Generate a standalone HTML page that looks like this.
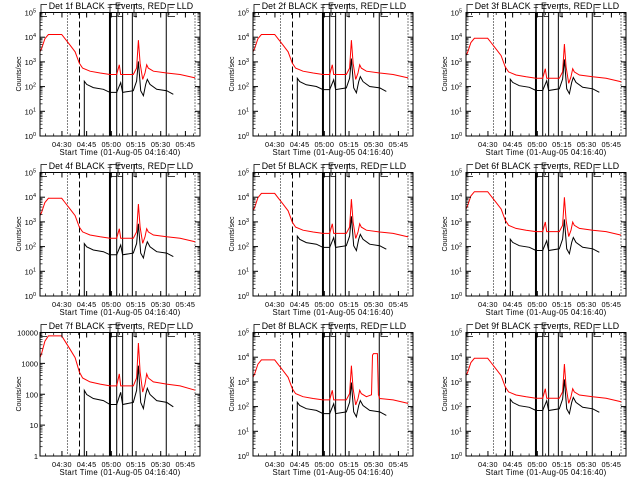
<!DOCTYPE html>
<html><head><meta charset="utf-8"><style>
html,body{margin:0;padding:0;background:#fff;}
svg{display:block;font-family:"Liberation Sans",sans-serif;}
</style></head><body>
<svg id="c" width="640" height="480" viewBox="0 0 640 480" xmlns="http://www.w3.org/2000/svg"></svg>
<script>
// time in minutes after 04:16:40
const redTimes=[0,1,3,5.1,8.1,13.2,15.2,18.2,21.3,23.9,25.9,30.4,36.5,42.5,46.6,48.2,49.0,56.7,58.7,59.8,60.8,62.4,63.8,64.8,65.8,68.9,77.0,85.1,94.2];
const redCounts=[2570,3470,8700,12900,12900,12900,8700,4790,2570,890,560,420,355,310,310,760,310,310,560,7600,890,195,355,760,560,420,355,310,225];
const blackTimes=[26.9,26.9,28.4,32.4,38.5,42.5,46.6,49.0,50.2,56.7,58.7,59.8,61.2,62.8,64.2,65.2,66.8,70.9,77.0,81.0];
const blackCounts=[0.8,166,123,91,78,58,58,145,58,68,166,1050,68,43,123,195,123,78,68,49];
const det8BumpTimes=[72.0,72.6,73.2,75.6,76.2];
const det8BumpCounts=[300,12000,14000,14000,300];
const detectors=["1f","2f","3f","4f","5f","6f","7f","8f","9f"];
const redScale=[1.0,1.0,0.7,0.7,1.1,1.3,0.6,0.6,0.7];
const blackScale=[1.0,1.3,1.2,0.8,1.6,1.2,0.8,0.9,1.2];
const markerTimes=[16.7,24.0,42.5,46.6,50.2,56.1,76.7];
const markerStyles=["dot","dash","thick","solid","solid","solid","solid"];
const xTickLabels=["04:30","04:45","05:00","05:15","05:30","05:45"];
const xTickTimes=[13.33,28.33,43.33,58.33,73.33,88.33];
const NS="http://www.w3.org/2000/svg";
const svg=document.getElementById('c');
function mk(tag,attrs,parent){const e=document.createElementNS(NS,tag);for(const k in attrs)e.setAttribute(k,attrs[k]);parent.appendChild(e);return e;}
const X0=40,X1=200,Y0=12.5,Y1=136,TMAX=97.2;
detectors.forEach((d,i)=>{
  const ox=(i%3)*213,oy=Math.floor(i/3)*160;
  const g=mk('g',{transform:`translate(${ox},${oy})`},svg);
  
  
  const lmin=0,lmax=(i===6)?4:5;
  const xs=t=>X0+t/TMAX*(X1-X0);
  const ys=v=>{let l=Math.log10(Math.max(v,1e-3));l=Math.min(Math.max(l,lmin-0.2),lmax);return Y1-(l-lmin)/(lmax-lmin)*(Y1-Y0);};
  const clip=mk('clipPath',{id:'cp'+i},g);mk('rect',{x:X0,y:Y0,width:X1-X0,height:Y1-Y0},clip);
  const ti=mk('text',{x:121,y:9,'font-size':8.8,'text-anchor':'middle','letter-spacing':0.1},g);
  ti.textContent=`Det ${d} BLACK = Events, RED = LLD`;
  
  
  markerTimes.forEach((t,k)=>{
    const s=markerStyles[k];const x=xs(t);
    const a={x1:x,x2:x,y1:Y0,y2:Y1,stroke:'#000','stroke-width':s==='thick'?2:1};
    if(s==='dot')a['stroke-dasharray']='1,2';
    if(s==='dash')a['stroke-dasharray']='6,3';
    const l=mk('line',a,g);
    
    
  });
  const l2=mk('line',{x1:195,x2:195,y1:Y0,y2:Y1,stroke:'#000','stroke-dasharray':'1,2'},g);
  
  
  [[41,47],[110,117],[118,123],[134,137],[168,175]].forEach(p=>{
    mk('polyline',{points:`${p[1]},${Y0-8} ${p[0]},${Y0-8} ${p[0]},${Y0+4} ${p[1]},${Y0+4}`,fill:'none',stroke:'#000','stroke-width':0.8},g);
  });
  let rt=redTimes.slice(),rc=redCounts.map(v=>v*redScale[i]);
  if(i===7){
    const pts=rt.map((t,k)=>[t,rc[k]]).filter(p=>p[0]<72||p[0]>76.2);
    det8BumpTimes.forEach((t,k)=>pts.push([t,det8BumpCounts[k]]));
    pts.sort((a,b)=>a[0]-b[0]);rt=pts.map(p=>p[0]);rc=pts.map(p=>p[1]);
  }
  const rp=rt.map((t,k)=>xs(t).toFixed(1)+','+ys(rc[k]).toFixed(1)).join(' ');
  const r=mk('polyline',{points:rp,fill:'none',stroke:'#f00','stroke-width':1,'clip-path':`url(#cp${i})`},g);
  
  
  const bp=blackTimes.map((t,k)=>xs(t).toFixed(1)+','+ys(blackCounts[k]*(k===0?1:blackScale[i])).toFixed(1)).join(' ');
  const b=mk('polyline',{points:bp,fill:'none',stroke:'#000','stroke-width':1,'clip-path':`url(#cp${i})`},g);
  
  
  const fr=mk('rect',{x:X0,y:Y0,width:X1-X0,height:Y1-Y0,fill:'none',stroke:'#000','stroke-width':1},g);
  
  
  for(let dd=lmin;dd<=lmax;dd++){
    const y=Y1-(dd-lmin)/(lmax-lmin)*(Y1-Y0);
    mk('line',{x1:X0,x2:X0+5,y1:y,y2:y,stroke:'#000'},g);
    mk('line',{x1:X1,x2:X1-5,y1:y,y2:y,stroke:'#000'},g);
    if(dd<lmax)for(let m=2;m<10;m++){const yy=y-Math.log10(m)/(lmax-lmin)*(Y1-Y0);
      mk('line',{x1:X0,x2:X0+2.5,y1:yy,y2:yy,stroke:'#000','stroke-width':0.7},g);
      mk('line',{x1:X1,x2:X1-2.5,y1:yy,y2:yy,stroke:'#000','stroke-width':0.7},g);}
    const tx=mk('text',{x:i===6?38:36,y:y+3,'font-size':7.5,'text-anchor':'end'},g);
    if(i===6){tx.textContent=String(Math.pow(10,dd));}
    else{tx.textContent='10';const sp=mk('tspan',{dy:-3,'font-size':5.5},tx);sp.textContent=String(dd);}
    
    
  }
  for(let t=3.33;t<TMAX;t+=5){const x=xs(t);
    mk('line',{x1:x,x2:x,y1:Y1,y2:Y1-2.5,stroke:'#000','stroke-width':0.7},g);
    mk('line',{x1:x,x2:x,y1:Y0,y2:Y0+2.5,stroke:'#000','stroke-width':0.7},g);}
  xTickTimes.forEach((t,k)=>{const x=xs(t);
    mk('line',{x1:x,x2:x,y1:Y1,y2:Y1-5,stroke:'#000'},g);
    mk('line',{x1:x,x2:x,y1:Y0,y2:Y0+5,stroke:'#000'},g);
    const tl=mk('text',{x:x,y:147,'font-size':7.3,'text-anchor':'middle','letter-spacing':0.3},g);
    tl.textContent=xTickLabels[k];
    
    
  });
  const xt=mk('text',{x:120,y:155,'font-size':7.8,'text-anchor':'middle','letter-spacing':0.3},g);
  xt.textContent='Start Time (01-Aug-05 04:16:40)';
  
  
  const yt=mk('text',{x:0,y:0,'font-size':7,'text-anchor':'middle',transform:'translate(21,74) rotate(-90)'},g);
  yt.textContent='Counts/sec';
  
  
});
</script>
</body></html>
